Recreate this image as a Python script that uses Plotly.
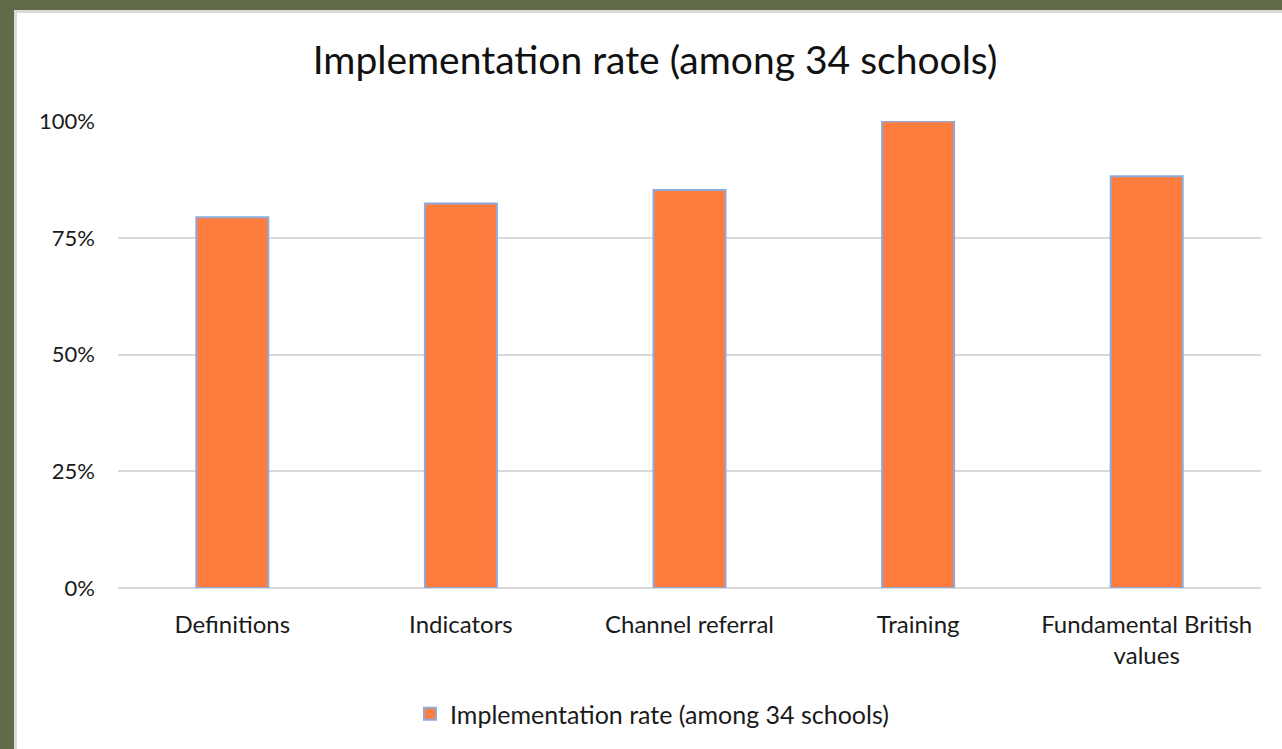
import plotly.graph_objects as go

categories = ["Definitions", "Indicators", "Channel referral", "Training", "Fundamental British<br>values"]
values = [27/34, 28/34, 29/34, 34/34, 30/34]
series_name = "Implementation rate (among 34 schools)"
title_text = "Implementation rate (among 34 schools)"

W, H = 1282, 749
L, R, T, B = 118, 21, 121, 161
pw, ph = W - L - R, H - T - B

def px_x(p):
    return (p - L) / pw

def px_y(p):
    return (H - B - p) / ph

FONT = "Lato, 'Open Sans', sans-serif"
OLIVE = "#5F6B49"

fig = go.Figure()
fig.add_trace(go.Bar(
    x=categories, y=values, name=series_name, width=0.315,
    marker=dict(color="#FF7C3F", line=dict(color="#8EAADB", width=2)),
    showlegend=True,
))

shapes = [
    dict(type="rect", xref="paper", yref="paper", x0=px_x(0), x1=px_x(14), y0=px_y(H), y1=px_y(0),
         fillcolor=OLIVE, line=dict(width=0), layer="above"),
    dict(type="rect", xref="paper", yref="paper", x0=px_x(0), x1=px_x(W), y0=px_y(10), y1=px_y(0),
         fillcolor=OLIVE, line=dict(width=0), layer="above"),
    dict(type="rect", xref="paper", yref="paper", x0=px_x(14), x1=px_x(17), y0=px_y(H), y1=px_y(10),
         fillcolor="#DADADA", line=dict(width=0), layer="above"),
    dict(type="rect", xref="paper", yref="paper", x0=px_x(14), x1=px_x(W), y0=px_y(13), y1=px_y(10),
         fillcolor="#DADADA", line=dict(width=0), layer="above"),
]

fig.update_layout(
    width=W, height=H,
    margin=dict(l=L, r=R, t=T, b=B),
    paper_bgcolor="white", plot_bgcolor="white",
    font=dict(family=FONT, color="#1a1a1a", size=24),
    title=dict(text=title_text, xref="container", x=655 / W, xanchor="center",
               yref="container", y=1 - 60 / H, yanchor="middle",
               font=dict(size=39, color="#111111", family=FONT)),
    xaxis=dict(showgrid=False, showline=False, zeroline=False, ticks="",
               ticklabelstandoff=20, tickfont=dict(size=24)),
    yaxis=dict(range=[0, 1.0005], dtick=0.25, tickformat=".0%", showgrid=True,
               gridcolor="#D9D9D9", gridwidth=2, zeroline=True, zerolinecolor="#D9D9D9",
               zerolinewidth=2, showline=False, ticks="", ticklabelstandoff=22,
               tickfont=dict(size=22)),
    legend=dict(orientation="h", xref="paper", x=px_x(652), xanchor="center",
                y=px_y(714), yanchor="middle", font=dict(size=25)),
    shapes=shapes,
    bargap=0.685,
)

fig.write_html("out.html", config={"displayModeBar": False},
               post_script="document.body.style.margin='0';document.body.style.padding='0';")
